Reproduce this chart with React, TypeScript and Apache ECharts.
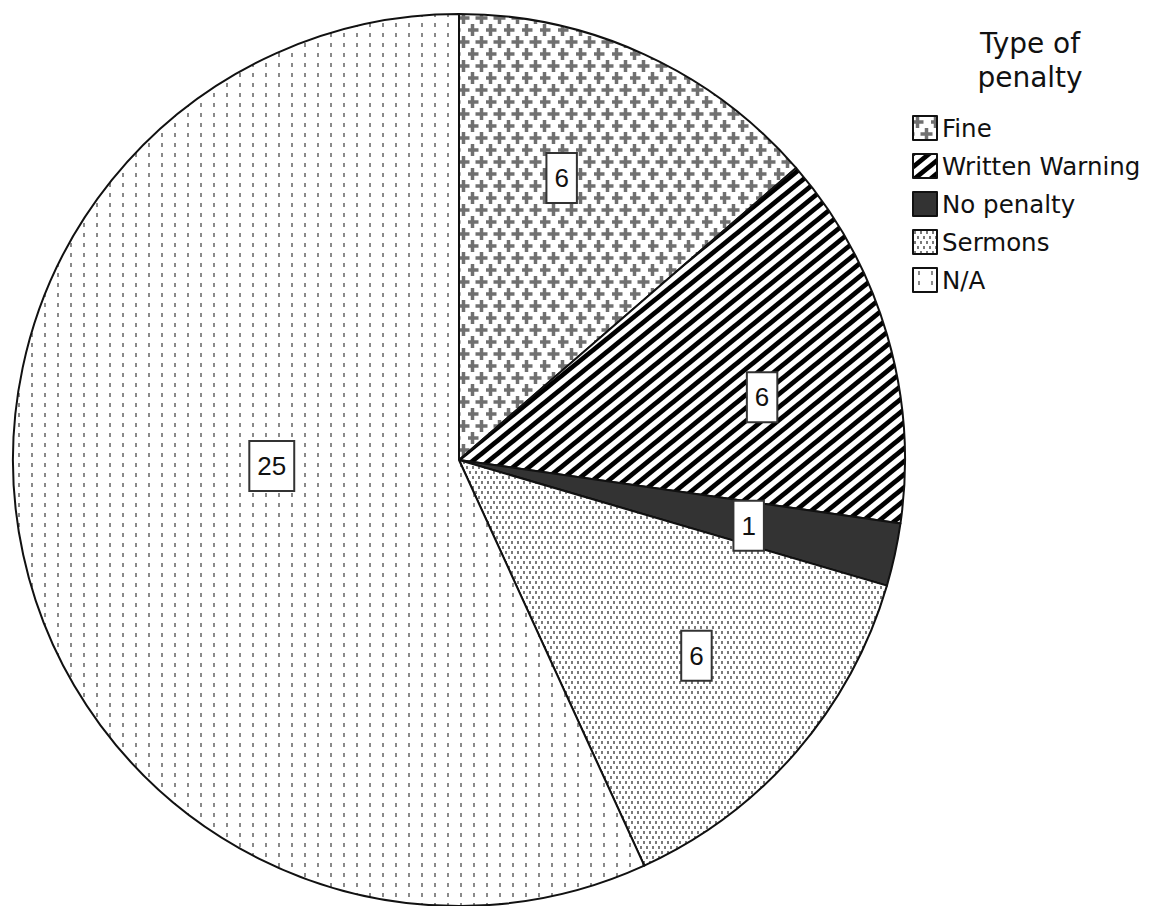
import { useEffect, useRef } from "react";
import * as echarts from "echarts";

// Counts of each type of penalty
const categories = ["Fine", "Written Warning", "No penalty", "Sermons", "N/A"];
const counts = [6, 6, 1, 6, 25];
const legendTitle = "Type of\npenalty";

// Where each value box sits inside its slice: clockwise angle from 12 o'clock (deg)
// and distance from the centre as a share of the radius
const labelAngles = [20, 78.3, 102.8, 129.5, 268.2];
const labelRadii = [0.673, 0.694, 0.666, 0.69, 0.42];

const PIE_CENTER = [459, 460];
const PIE_RADIUS = 446;

type Draw = (ctx: CanvasRenderingContext2D, w: number, h: number) => void;

function makeTile(w: number, h: number, draw: Draw) {
  const c = document.createElement("canvas");
  c.width = w;
  c.height = h;
  const ctx = c.getContext("2d")!;
  ctx.fillStyle = "#ffffff";
  ctx.fillRect(0, 0, w, h);
  draw(ctx, w, h);
  return {
    image: c.toDataURL(),
    repeat: "repeat",
    imageWidth: w,
    imageHeight: h,
  };
}

function makePatterns() {
  // staggered plus signs
  const fine = makeTile(18, 24, (ctx) => {
    ctx.fillStyle = "#707070";
    const plus = (cx: number, cy: number) => {
      ctx.fillRect(cx - 6, cy - 1.75, 12, 3.5);
      ctx.fillRect(cx - 1.75, cy - 6, 3.5, 12);
    };
    plus(4.5, 6);
    plus(13.5, 18);
    plus(13.5 - 18, 18);
    plus(4.5, 6 + 24);
  });
  // "/" diagonal stripes
  const written = makeTile(16, 13, (ctx) => {
    ctx.strokeStyle = "#000000";
    ctx.lineWidth = 4.8;
    for (let k = -1; k <= 2; k++) {
      ctx.beginPath();
      ctx.moveTo(-4, 13 * k + 13 + 3.25);
      ctx.lineTo(20, 13 * k + 13 - 16.25);
      ctx.stroke();
    }
  });
  // dense staggered dots
  const sermons = makeTile(6, 10, (ctx) => {
    ctx.fillStyle = "#7a7a7a";
    ctx.fillRect(1, 1, 2, 3);
    ctx.fillRect(4, 6, 2, 3);
  });
  // sparse dots in columns
  const na = makeTile(13, 10, (ctx) => {
    ctx.fillStyle = "#8a8a8a";
    ctx.fillRect(5, 3, 2, 4);
  });
  return [fine, written, "#333333", sermons, na];
}

export default function App() {
  const ref = useRef<HTMLDivElement>(null);

  useEffect(() => {
    if (!ref.current) return;
    const chart = echarts.init(ref.current, undefined, { renderer: "svg" });
    const fills = makePatterns();

    const option: any = {
      animation: false,
      backgroundColor: "#ffffff",
      legend: {
        orient: "vertical",
        left: 912,
        top: 115,
        padding: 0,
        itemWidth: 24,
        itemHeight: 24,
        itemGap: 12,
        icon: "rect",
        selectedMode: false,
        data: categories,
        textStyle: {
          fontFamily: "DejaVu Sans",
          fontSize: 24.5,
          color: "#111111",
        },
      },
      graphic: [
        {
          type: "text",
          x: 1030,
          y: 26,
          silent: true,
          style: {
            text: legendTitle,
            font: '28px "DejaVu Sans"',
            fill: "#111111",
            align: "center",
            textAlign: "center",
            verticalAlign: "top",
            lineHeight: 34,
          },
        },
      ],
      series: [
        {
          type: "pie",
          silent: true,
          center: PIE_CENTER,
          radius: PIE_RADIUS,
          startAngle: 90,
          clockwise: true,
          avoidLabelOverlap: false,
          itemStyle: {
            borderColor: "#111111",
            borderWidth: 2,
          },
          label: {
            show: true,
            position: "inside",
            formatter: "{c}",
            fontFamily: "Liberation Sans",
            fontSize: 26,
            color: "#111111",
            backgroundColor: "#ffffff",
            borderColor: "#333333",
            borderWidth: 2,
            padding: [11, 7],
          },
          labelLine: { show: false },
          labelLayout: (params: any) => {
            const i = params.dataIndex;
            const a = (labelAngles[i] * Math.PI) / 180;
            const r = labelRadii[i] * PIE_RADIUS;
            return {
              x: PIE_CENTER[0] + r * Math.sin(a),
              y: PIE_CENTER[1] - r * Math.cos(a),
              align: "center",
              verticalAlign: "middle",
            };
          },
          data: categories.map((name, i) => ({
            name,
            value: counts[i],
            itemStyle: { color: fills[i] },
          })),
        },
      ],
    };

    chart.setOption(option);
    return () => chart.dispose();
  }, []);

  return (
    <div
      ref={ref}
      style={{
        position: "fixed",
        left: 0,
        top: 0,
        width: 1149,
        height: 906,
        background: "#ffffff",
      }}
    />
  );
}
